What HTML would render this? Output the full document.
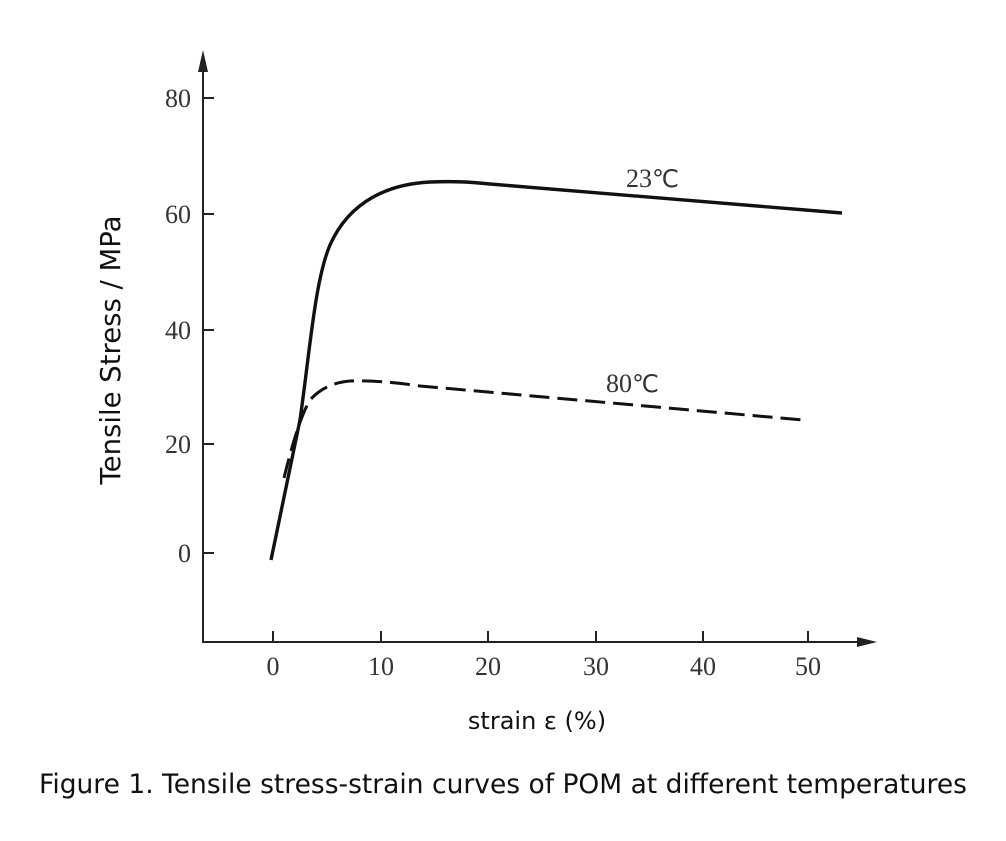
<!DOCTYPE html>
<html><head><meta charset="utf-8"><style>
html,body{margin:0;padding:0;background:#fff;}
</style></head><body>
<svg width="1006" height="836" xmlns="http://www.w3.org/2000/svg">
<rect width="1006" height="836" fill="#fff"/>
<g stroke="#222" stroke-width="2" fill="none">
<line x1="203" y1="60" x2="203" y2="643"/>
<line x1="203" y1="642" x2="865" y2="642"/>
<line x1="203" y1="98" x2="214" y2="98"/>
<line x1="203" y1="214" x2="214" y2="214"/>
<line x1="203" y1="330" x2="214" y2="330"/>
<line x1="203" y1="444" x2="214" y2="444"/>
<line x1="203" y1="553" x2="214" y2="553"/>
<line x1="273" y1="642" x2="273" y2="631"/>
<line x1="381" y1="642" x2="381" y2="631"/>
<line x1="488" y1="642" x2="488" y2="631"/>
<line x1="596" y1="642" x2="596" y2="631"/>
<line x1="703" y1="642" x2="703" y2="631"/>
<line x1="808" y1="642" x2="808" y2="631"/>
</g>
<polygon points="203,50 198,72 208,72" fill="#222"/>
<polygon points="877,642 857,637 857,647" fill="#222"/>
<g font-family="Liberation Serif, serif" font-size="26" fill="#333">
<text x="191" y="107" text-anchor="end">80</text>
<text x="191" y="223" text-anchor="end">60</text>
<text x="191" y="339" text-anchor="end">40</text>
<text x="191" y="453" text-anchor="end">20</text>
<text x="191" y="562" text-anchor="end">0</text>
<text x="273" y="675" text-anchor="middle">0</text>
<text x="381" y="675" text-anchor="middle">10</text>
<text x="488" y="675" text-anchor="middle">20</text>
<text x="596" y="675" text-anchor="middle">30</text>
<text x="703" y="675" text-anchor="middle">40</text>
<text x="808" y="675" text-anchor="middle">50</text>
<text x="626" y="187">23<tspan font-size="24">℃</tspan></text>
<text x="606" y="392">80<tspan font-size="24">℃</tspan></text>
</g>
<path d="M271,560 L300,420 C310,350 315,280 330,245 C350,200 390,184 430,182 C455,181 470,182 490,184 L842,213" stroke="#111" stroke-width="3.4" fill="none"/>
<path d="M284,478 Q298,420 310,400 Q325,383 350,381 Q380,380 420,386 L803,420" stroke="#111" stroke-width="3" fill="none" stroke-dasharray="20 8"/>
<text transform="translate(120,350) rotate(-90)" text-anchor="middle" font-family="DejaVu Sans, sans-serif" font-size="27.5" fill="#111">Tensile Stress / MPa</text>
<text x="537" y="729" text-anchor="middle" font-family="DejaVu Sans, sans-serif" font-size="24" fill="#111">strain ε (%)</text>
<text x="503" y="793" text-anchor="middle" font-family="DejaVu Sans, sans-serif" font-size="26.5" fill="#111">Figure 1. Tensile stress-strain curves of POM at different temperatures</text>
</svg>
</body></html>
